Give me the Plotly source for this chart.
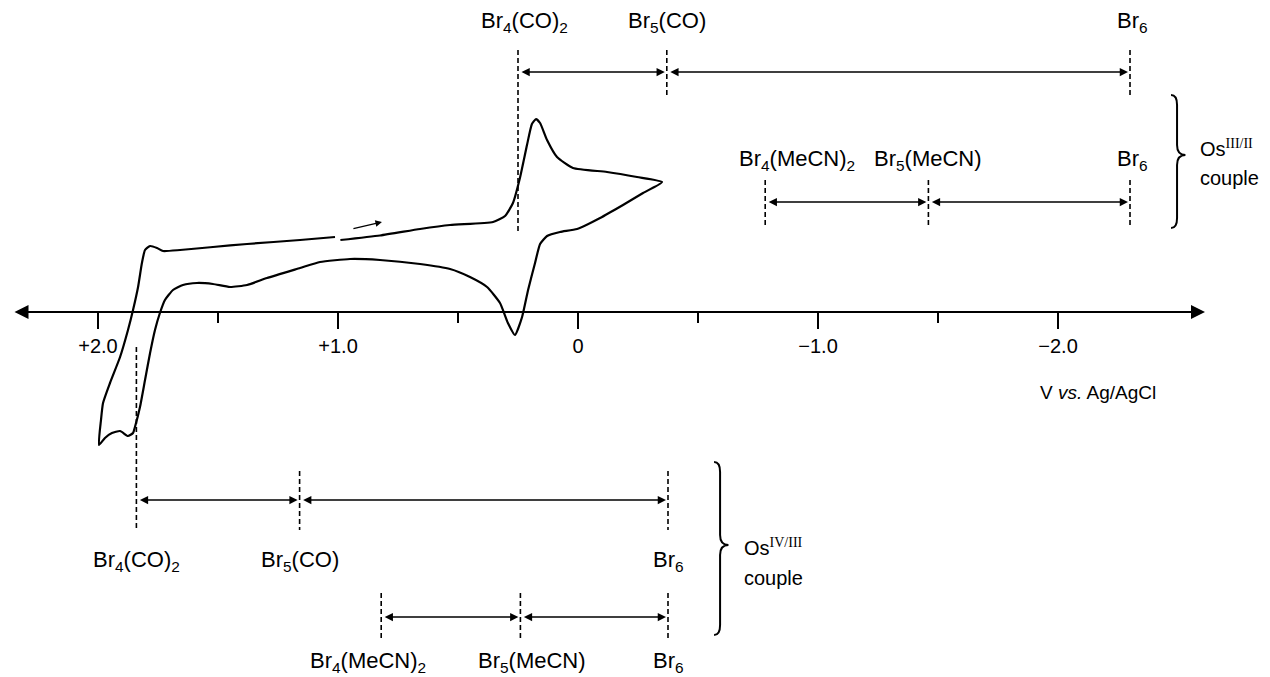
import plotly.graph_objects as go

# ---------------- data ----------------
# cyclic voltammogram: potential (V vs Ag/AgCl) and current (arbitrary units)
cv_potential = [0.99, 0.825, 0.658, 0.533, 0.354, 0.304, 0.271, 0.242, 0.2125, 0.192, 0.175, 0.158,
                0.129, 0.0875, 0.021, -0.121, -0.246, -0.35,
                -0.271, -0.1875, -0.092, 0.004, 0.075, 0.129, 0.158, 0.179, 0.208, 0.233, 0.2625,
                0.292, 0.325, 0.379, 0.45, 0.533, 0.658, 0.825, 0.95, 1.075, 1.158, 1.296, 1.379,
                1.45, 1.521, 1.5875, 1.646, 1.6875, 1.721, 1.742, 1.7625, 1.783, 1.804, 1.825,
                1.846, 1.854, 1.875, 1.908, 1.942, 1.971, 1.996,
                1.9875, 1.979, 1.95, 1.908, 1.875, 1.854, 1.833, 1.817, 1.804, 1.783, 1.754,
                1.729, 1.658, 1.521, 1.379, 1.158, 1.0125]
cv_current = [7.2, 7.65, 8.3, 8.7, 9.0, 9.6, 10.9, 13.4, 16.7, 18.8, 19.3, 18.9,
              17.2, 15.5, 14.4, 14.0, 13.5, 13.0,
              11.9, 10.7, 9.4, 8.3, 8.0, 7.6, 6.8, 4.9, 2.2, -0.5, -2.3,
              -1.1, 0.9, 2.5, 3.5, 4.3, 4.8, 5.2, 5.3, 5.0, 4.4, 3.4, 2.7,
              2.5, 2.8, 2.9, 2.7, 2.2, 1.2, -0.1, -1.8, -4.1, -6.8, -9.5,
              -11.5, -12.1, -12.4, -11.9, -12.1, -12.6, -13.3,
              -10.8, -9.1, -7.1, -4.5, -1.8, 0.2, 2.5, 4.9, 6.2, 6.6, 6.4,
              6.1, 6.2, 6.5, 6.8, 7.2, 7.5]

# scan-direction arrow (tail, head)
scan_arrow_E = [0.942, 0.817]
scan_arrow_i = [8.3, 9.0]

co_labels = ["Br<sub>4</sub>(CO)<sub>2</sub>", "Br<sub>5</sub>(CO)", "Br<sub>6</sub>"]
mecn_labels = ["Br<sub>4</sub>(MeCN)<sub>2</sub>", "Br<sub>5</sub>(MeCN)", "Br<sub>6</sub>"]

# half-wave potentials (V vs Ag/AgCl)
os32_co_E = [0.25, -0.37, -2.30]      # Os III/II, carbonyl series
os32_mecn_E = [-0.78, -1.46, -2.30]   # Os III/II, acetonitrile series
os43_co_E = [1.84, 1.16, -0.375]      # Os IV/III, carbonyl series
os43_mecn_E = [0.82, 0.24, -0.375]    # Os IV/III, acetonitrile series

tick_vals = [2.0, 1.0, 0.0, -1.0, -2.0]
tick_text = ["+2.0", "+1.0", "0", "\u22121.0", "\u22122.0"]
minor_tick_vals = [1.5, 0.5, -0.5, -1.5]

# ---------------- styling / layout ----------------
FONT = "Liberation Sans, Arial, Helvetica, sans-serif"
SERIF = "Liberation Serif, Times New Roman, serif"
X_RANGE = [2.4083, -2.8833]
Y_RANGE = [-36.5, 31.2]
AXIS_POS = (0 - Y_RANGE[0]) / (Y_RANGE[1] - Y_RANGE[0])
LABEL_SIZE = 22

fig = go.Figure()

# CV curve
fig.add_trace(go.Scatter(x=cv_potential, y=cv_current, mode="lines",
                         line=dict(color="black", width=2.2, shape="spline", smoothing=0.5),
                         hoverinfo="skip", showlegend=False))

annotations = []
shapes = []

rows = [
    dict(E=os32_co_E, labels=co_labels, label_y=29.0, top=26.2, bot=21.7, arrow_y=24.0,
         first_top=26.2, first_bot=7.9, shifts=[6, 0, 2]),
    dict(E=os32_mecn_E, labels=mecn_labels, label_y=15.2, top=13.2, bot=8.5, arrow_y=11.0,
         first_top=13.2, first_bot=8.5, shifts=[32, 0, 2]),
    dict(E=os43_co_E, labels=co_labels, label_y=-24.9, top=-15.9, bot=-21.8, arrow_y=-18.8,
         first_top=-3.5, first_bot=-21.8, shifts=[0, 0, 0]),
    dict(E=os43_mecn_E, labels=mecn_labels, label_y=-35.0, top=-28.1, bot=-32.8, arrow_y=-30.5,
         first_top=-28.1, first_bot=-32.8, shifts=[-13, 12, 0]),
]

for r in rows:
    for k, (e, lab, sh) in enumerate(zip(r["E"], r["labels"], r["shifts"])):
        t = r["first_top"] if k == 0 else r["top"]
        b = r["first_bot"] if k == 0 else r["bot"]
        fig.add_trace(go.Scatter(x=[e, e], y=[t, b], mode="lines",
                                 line=dict(color="black", width=1.6, dash="5px,3px"),
                                 hoverinfo="skip", showlegend=False))
        annotations.append(dict(x=e, y=r["label_y"], xref="x", yref="y", text=lab,
                                showarrow=False, xanchor="center", yanchor="middle",
                                xshift=sh, font=dict(family=FONT, size=LABEL_SIZE, color="black")))
    for a, b in zip(r["E"][:-1], r["E"][1:]):
        annotations.append(dict(x=b, y=r["arrow_y"], ax=a, ay=r["arrow_y"], xref="x", yref="y",
                                axref="x", ayref="y", text="", showarrow=True,
                                arrowside="end+start", arrowhead=2, arrowsize=1.1,
                                arrowwidth=1.5, arrowcolor="black", standoff=2, startstandoff=2))

# potential axis line with arrows at both ends
annotations.append(dict(x=-2.6125, y=0, ax=2.354, ay=0, xref="x", yref="y", axref="x", ayref="y",
                        text="", showarrow=True, arrowside="end+start", arrowhead=2,
                        arrowsize=1.4, arrowwidth=2, arrowcolor="black"))

# scan direction arrow
annotations.append(dict(x=scan_arrow_E[1], y=scan_arrow_i[1], ax=scan_arrow_E[0], ay=scan_arrow_i[0],
                        xref="x", yref="y", axref="x", ayref="y", text="", showarrow=True,
                        arrowhead=2, arrowsize=1.0, arrowwidth=1.3, arrowcolor="black"))

# axis title
annotations.append(dict(x=-2.4167, y=-8.0, xref="x", yref="y", xanchor="right", yanchor="middle",
                        text="V <i>vs.</i> Ag/AgCl", showarrow=False,
                        font=dict(family=FONT, size=19, color="black")))


def brace(spine, y_top, y_mid, y_bot, half_w=0.025, tip=0.035, q=1.0):
    xl = spine + half_w
    xt = spine - tip
    return (f"M {xl},{y_top} Q {spine},{y_top} {spine},{y_top - q} "
            f"L {spine},{y_mid + q} Q {spine},{y_mid} {xt},{y_mid} "
            f"Q {spine},{y_mid} {spine},{y_mid - q} "
            f"L {spine},{y_bot + q} Q {spine},{y_bot} {xl},{y_bot}")


shapes.append(dict(type="path", xref="x", yref="y", path=brace(-2.496, 21.7, 15.7, 8.4),
                   line=dict(color="black", width=2)))
shapes.append(dict(type="path", xref="x", yref="y", path=brace(-0.592, -15.0, -23.3, -32.3),
                   line=dict(color="black", width=2)))

sup32 = f"Os<sup><span style='font-family:{SERIF}'>III/II</span></sup>"
sup43 = f"Os<sup><span style='font-family:{SERIF}'>IV/III</span></sup>"
for txt, x, y in [(sup32, -2.583, 16.4), ("couple", -2.583, 13.4),
                  (sup43, -0.683, -23.5), ("couple", -0.683, -26.6)]:
    annotations.append(dict(x=x, y=y, xref="x", yref="y", text=txt, showarrow=False,
                            xanchor="left", yanchor="middle",
                            font=dict(family=FONT, size=20, color="black")))

fig.update_layout(
    width=1270, height=677,
    margin=dict(l=0, r=0, t=0, b=0),
    paper_bgcolor="white", plot_bgcolor="white",
    showlegend=False,
    xaxis=dict(range=X_RANGE, anchor="free", position=AXIS_POS, showline=False,
               showgrid=False, zeroline=False, tickvals=tick_vals, ticktext=tick_text,
               ticks="outside", ticklen=16, tickwidth=2, tickcolor="black",
               tickfont=dict(family=FONT, size=20, color="black"),
               minor=dict(tickvals=minor_tick_vals, ticks="outside", ticklen=10,
                          tickwidth=2, tickcolor="black")),
    yaxis=dict(range=Y_RANGE, visible=False, showgrid=False, zeroline=False),
    annotations=annotations,
    shapes=shapes,
)

fig.write_html("out.html", config={"displayModeBar": False},
               post_script="document.body.style.margin='0';document.body.style.overflow='hidden';")
